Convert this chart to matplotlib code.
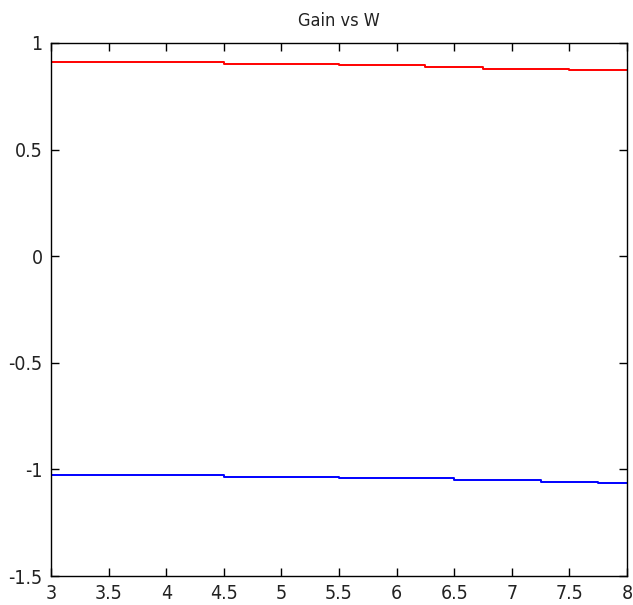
import matplotlib
matplotlib.use("Agg")
import matplotlib.pyplot as plt

# Data (stepped appearance)
red_x = [3, 4.5, 5.5, 6.25, 6.75, 7.5, 8]
red_y = [0.9095, 0.9015, 0.897, 0.887, 0.879, 0.873, 0.873]
blue_x = [3, 4.5, 5.5, 6.5, 7.25, 7.75, 8]
blue_y = [-1.0277, -1.0357, -1.0417, -1.051, -1.059, -1.065, -1.065]
xticks = [3, 3.5, 4, 4.5, 5, 5.5, 6, 6.5, 7, 7.5, 8]
yticks = [-1.5, -1, -0.5, 0, 0.5, 1]

plt.rcParams['font.family'] = ['DejaVu Sans']
plt.rcParams['font.stretch'] = 'condensed'

fig = plt.figure(figsize=(6.33, 6.05), dpi=100)
ax = fig.add_axes([51/633, 29/605, 576/633, 533/605])

ax.plot(red_x, red_y, color='#ff0000', lw=1.4, drawstyle='steps-post')
ax.plot(blue_x, blue_y, color='#0000ff', lw=1.4, drawstyle='steps-post')

ax.set_xlim(3, 8)
ax.set_ylim(-1.5, 1)
ax.set_xticks(xticks)
ax.set_xticklabels([f"{t:g}" for t in xticks])
ax.set_yticks(yticks)
ax.set_yticklabels([f"{t:g}" for t in yticks])
ax.tick_params(direction='in', top=True, right=True, length=6, width=1, labelsize=14, pad=6,
               colors='#000000', labelcolor='#222222')
for s in ax.spines.values():
    s.set_linewidth(1)
ax.set_title("Gain vs W", fontsize=13, pad=12, color='#222222')

fig.savefig("out.png", dpi=100)
